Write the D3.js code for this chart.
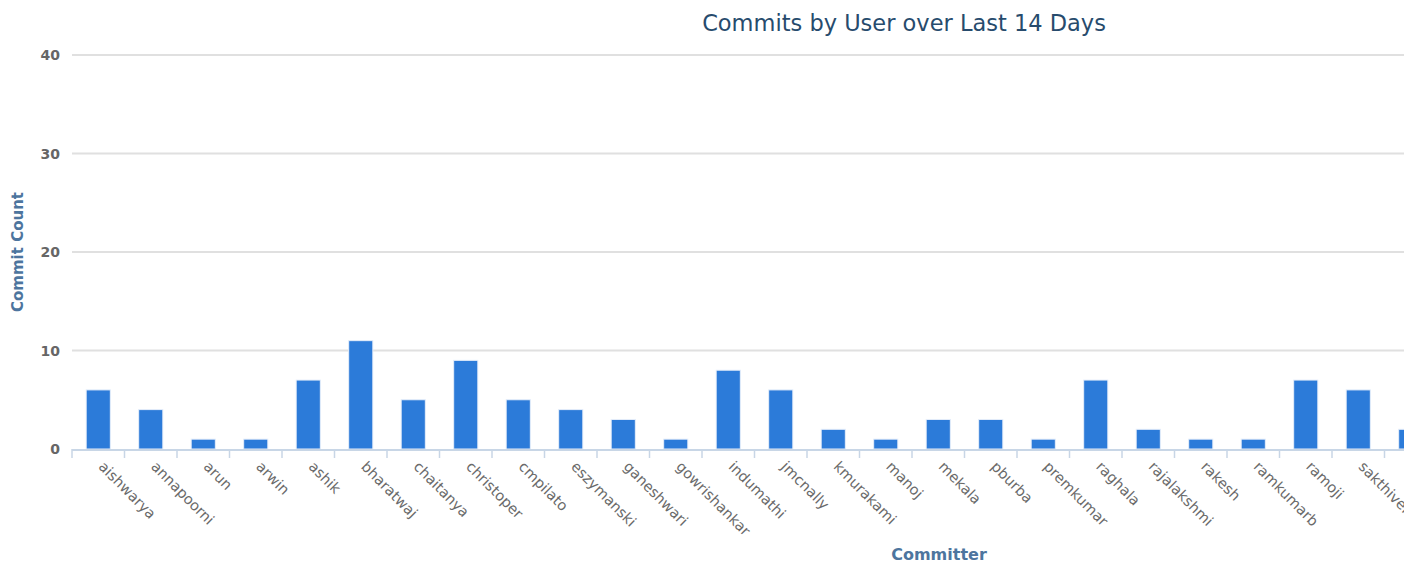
<!DOCTYPE html>
<html><head><meta charset="utf-8">
<script src="https://cdn.jsdelivr.net/npm/d3@7"></script>
<style>html,body{margin:0;padding:0;background:#fff;overflow:hidden}</style>
</head><body>
<svg id="chart" width="1404" height="563"></svg>
<script>
const committers = ["aishwarya","annapoorni","arun","arwin","ashik","bharatwaj","chaitanya","christoper","cmpilato","eszymanski","ganeshwari","gowrishankar","indumathi","jmcnally","kmurakami","manoj","mekala","pburba","premkumar","raghala","rajalakshmi","rakesh","ramkumarb","ramoji","sakthivel","senthil"];
const commitCounts = [6,4,1,1,7,11,5,9,5,4,3,1,8,6,2,1,3,3,1,7,2,1,1,7,6,2];
const yTicks = [0,10,20,30,40];
const chartTitle = "Commits by User over Last 14 Days";
const yTitle = "Commit Count";
const xTitle = "Committer";

(function () {
const font = "'DejaVu Sans', sans-serif";
const svg = d3.select("#chart");
const plotLeft = 72, plotTop = 55, plotBottom = 449, step = 52.5;
const x = d3.scaleBand().domain(committers).range([plotLeft, plotLeft + step * committers.length]).paddingInner(0.54).paddingOuter(0.27);
const y = d3.scaleLinear().domain([0, 40]).range([plotBottom, plotTop]);
const plotRight = 1808;

// grid
svg.append("g").selectAll("line").data(yTicks.filter(d => d > 0)).join("line")
  .attr("x1", plotLeft).attr("x2", plotRight).attr("y1", d => y(d)).attr("y2", d => y(d))
  .attr("stroke", "#e0e0e0").attr("stroke-width", 2);

// y labels
svg.append("g").selectAll("text").data(yTicks).join("text")
  .attr("x", 60).attr("y", d => y(d) + 5).attr("text-anchor", "end")
  .attr("font-family", font).attr("font-size", 14).attr("fill", "#666").attr("font-weight", 600)
  .text(d => d);

// bars
svg.append("g").selectAll("rect").data(committers).join("rect")
  .attr("x", d => x(d)).attr("width", x.bandwidth())
  .attr("y", (d, i) => y(commitCounts[i])).attr("height", (d, i) => plotBottom - y(commitCounts[i]))
  .attr("fill", "#2c7bd9").attr("stroke", "#e6eefa").attr("stroke-width", 1);

// x axis line and ticks
svg.append("line").attr("x1", plotLeft).attr("x2", plotRight).attr("y1", plotBottom + 1).attr("y2", plotBottom + 1)
  .attr("stroke", "#c8d6e6").attr("stroke-width", 2);
const tickPos = committers.map(d => x(d) - x.step() * x.paddingInner() / 2);
tickPos.push(plotLeft + step * committers.length);
svg.append("g").selectAll("line").data(tickPos).join("line")
  .attr("x1", d => d).attr("x2", d => d).attr("y1", plotBottom).attr("y2", plotBottom + 9)
  .attr("stroke", "#c8d6e6").attr("stroke-width", 1.5);

// x labels
svg.append("g").selectAll("text").data(committers).join("text")
  .attr("transform", d => `translate(${x(d) + x.bandwidth() / 2 + 3},${plotBottom + 15}) rotate(45)`)
  .attr("text-anchor", "start").attr("dy", "0.35em")
  .attr("font-family", font).attr("font-size", 14.5).attr("fill", "#6a6a6a")
  .text(d => d);

// titles
svg.append("text").attr("x", 904).attr("y", 31).attr("text-anchor", "middle")
  .attr("font-family", font).attr("font-size", 22.5).attr("fill", "#274b6d").text(chartTitle);
svg.append("text").attr("x", 939).attr("y", 560).attr("text-anchor", "middle")
  .attr("font-family", font).attr("font-size", 16).attr("font-weight", "bold").attr("fill", "#4d759e").text(xTitle);
svg.append("text").attr("transform", `translate(23,252) rotate(-90)`).attr("text-anchor", "middle")
  .attr("font-family", font).attr("font-size", 15).attr("font-weight", "bold").attr("fill", "#4d759e").text(yTitle);
})();
</script>
</body></html>
